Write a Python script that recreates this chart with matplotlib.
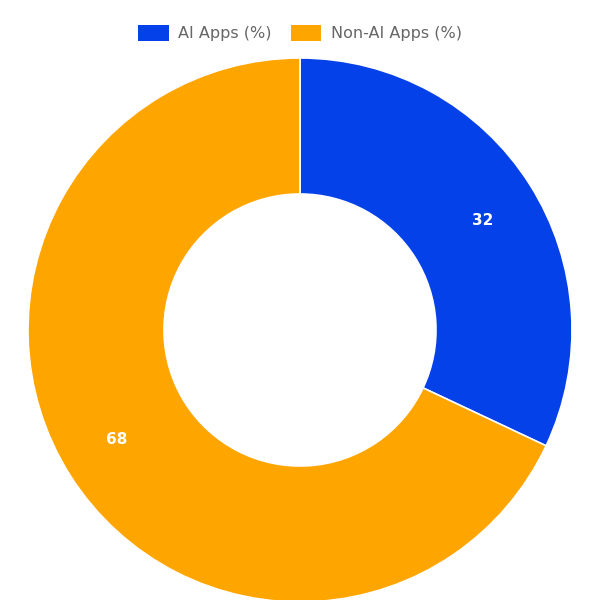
import matplotlib
matplotlib.use("Agg")
import matplotlib.pyplot as plt
from matplotlib.patches import Patch

labels = ["AI Apps (%)", "Non-AI Apps (%)"]
values = [32, 68]
colors = ["#0441E8", "#FFA500"]

fig = plt.figure(figsize=(6, 6), dpi=100)
ax = fig.add_axes([0, 0, 1, 1])
R = 272.0
ax.set_xlim(-300 / R, 300 / R)
ax.set_ylim(-270 / R, 330 / R)
ax.set_aspect("equal")
ax.axis("off")

wedges, texts = ax.pie(values, colors=colors, startangle=90, counterclock=False,
                       radius=1.0, labels=[str(v) for v in values],
                       labeldistance=0.75,
                       wedgeprops=dict(width=0.5, edgecolor="white", linewidth=1.2),
                       textprops=dict(color="white", fontsize=11, fontweight="bold"))
ax.set_xlim(-300 / R, 300 / R)
ax.set_ylim(-270 / R, 330 / R)

handles = [Patch(facecolor=c, label=l) for c, l in zip(colors, labels)]
fig.legend(handles=handles, loc="center", bbox_to_anchor=(0.5, 0.945), ncol=2,
           frameon=False, fontsize=11.5, labelcolor="#666666",
           handlelength=1.9, handleheight=1.2, columnspacing=1.2, handletextpad=0.6)

fig.savefig("out.png", dpi=100)
